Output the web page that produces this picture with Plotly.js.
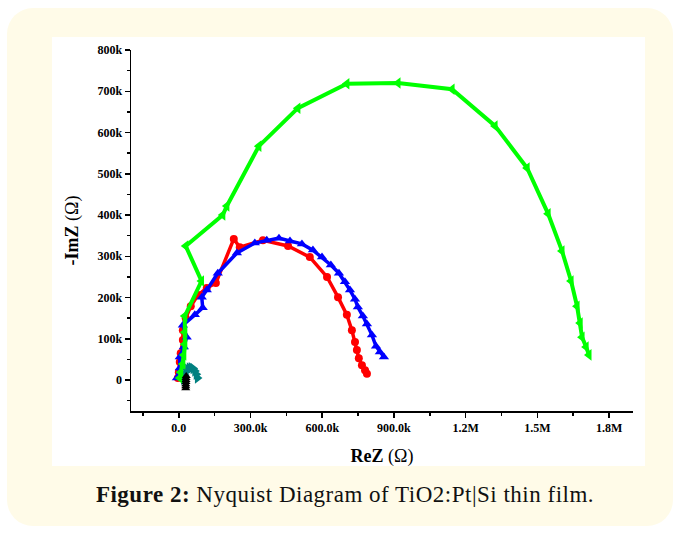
<!DOCTYPE html>
<html>
<head>
<meta charset="utf-8">
<script src="https://cdn.plot.ly/plotly-3.0.1.min.js"></script>
<style>
  html, body { margin: 0; padding: 0; background: #ffffff; width: 680px; height: 533px; overflow: hidden; }
  #card { position: absolute; left: 7px; top: 8px; width: 666px; height: 518px; background: #fffbe8; border-radius: 26px; }
  #frame { position: absolute; left: 52px; top: 37px; width: 593px; height: 429px; background: #ffffff; overflow: hidden; }
  #plot { position: absolute; left: 0; top: 0; width: 593px; height: 449px; }
  #caption { position: absolute; left: 0; top: 482px; width: 690px; text-align: center; font-family: 'Liberation Serif', serif; font-size: 23px; letter-spacing: 0.5px; color: #111; }
</style>
</head>
<body>
<div id="card"></div>
<div id="frame"><div id="plot"></div></div>
<div id="caption"><b>Figure 2:</b> Nyquist Diagram of TiO2:Pt|Si thin film.</div>
<script>
// Values in kΩ (converted to Ω below)
const redX   = [-4, 0, 4, 8, 17, 17, 29, 50, 80, 117, 155, 230, 255, 352, 457, 548, 620, 666, 703, 724, 737, 745, 753, 766, 779, 787];
const redY   = [5, 19, 44, 65, 97, 121, 150, 179, 206, 223, 235, 342, 322, 339, 325, 298, 250, 201, 158, 121, 92, 73, 53, 36, 24, 15];

const blueX  = [-8, 4, 4, 21, 33, 17, 67, 100, 96, 117, 163, 243, 318, 368, 419, 465, 515, 561, 599, 636, 670, 695, 716, 737, 749, 770, 787, 808, 825, 841, 858];
const blueY  = [5, 29, 56, 80, 104, 133, 158, 175, 201, 218, 259, 308, 332, 339, 344, 337, 330, 315, 298, 279, 259, 238, 218, 196, 177, 155, 136, 109, 82, 68, 56];

const greenX = [4, 8, 17, 21, 25, 25, 25, 95, 29, 184, 201, 335, 498, 703, 917, 1143, 1323, 1457, 1545, 1603, 1641, 1666, 1679, 1687, 1704, 1716];
const greenY = [5, 19, 39, 61, 87, 116, 155, 240, 325, 400, 422, 567, 659, 718, 720, 705, 616, 514, 403, 313, 240, 179, 138, 104, 80, 61];

const tealX  = [20, 24, 30, 37, 44, 52, 60, 67, 73, 78];
const tealY  = [2, 12, 20, 26, 29, 30, 28, 22, 14, 5];

const blackX = [29, 29, 29, 30, 30, 30, 31];
const blackY = [-20, -15, -10, -5, 0, 5, 10];

const xTickVals = [0, 300000, 600000, 900000, 1200000, 1500000, 1800000];
const xTickText = ['0.0', '300.0k', '600.0k', '900.0k', '1.2M', '1.5M', '1.8M'];
const yTickVals = [0, 100000, 200000, 300000, 400000, 500000, 600000, 700000, 800000];
const yTickText = ['0', '100k', '200k', '300k', '400k', '500k', '600k', '700k', '800k'];

const k = v => v.map(a => a * 1000);

const traces = [
  { x: k(redX), y: k(redY), mode: 'lines+markers', line: {color: '#ff0000', width: 3.5},
    marker: {symbol: 'circle', size: 8, color: '#ff0000'} },
  { x: k(blueX), y: k(blueY), mode: 'lines+markers', line: {color: '#0000ff', width: 3.5},
    marker: {symbol: 'triangle-up', size: 9, color: '#0000ff'} },
  { x: k(tealX), y: k(tealY), mode: 'lines+markers', line: {color: '#008080', width: 3},
    marker: {symbol: 'triangle-right', size: 10, color: '#008080'} },
  { x: k(greenX), y: k(greenY), mode: 'lines+markers', line: {color: '#00ff00', width: 4},
    marker: {symbol: 'triangle-left', size: 10, color: '#00ff00'} },
  { x: k(blackX), y: k(blackY), mode: 'lines+markers', line: {color: '#000000', width: 5},
    marker: {symbol: 'triangle-up', size: 8, color: '#000000'} }
];

const tickFont = {family: 'Liberation Serif', size: 12, color: '#000', weight: 'bold'};

const layout = {
  width: 593, height: 449,
  margin: {l: 79, r: 12, t: 13, b: 75},
  paper_bgcolor: '#ffffff', plot_bgcolor: '#ffffff',
  showlegend: false,
  xaxis: {
    range: [-200000, 1900000], autorange: false,
    showgrid: false, zeroline: false, showline: true, linecolor: '#000', linewidth: 1.5,
    ticks: 'outside', ticklen: 5, tickwidth: 1.5, tickcolor: '#000',
    tickvals: xTickVals, ticktext: xTickText, tickfont: tickFont,
    minor: {ticks: 'outside', ticklen: 3, tickwidth: 1.5, tickcolor: '#000', dtick: 150000, tick0: 0, showgrid: false},
    title: {text: '<b>ReZ</b> (Ω)', font: {family: 'Liberation Serif', size: 18, color: '#000'}, standoff: 15}
  },
  yaxis: {
    range: [-75000, 800000], autorange: false,
    showgrid: false, zeroline: false, showline: true, linecolor: '#000', linewidth: 1.5,
    ticks: 'outside', ticklen: 5, tickwidth: 1.5, tickcolor: '#000',
    tickvals: yTickVals, ticktext: yTickText, tickfont: tickFont,
    minor: {ticks: 'outside', ticklen: 3, tickwidth: 1.5, tickcolor: '#000', dtick: 50000, tick0: 0, showgrid: false},
    title: {text: '<b>-ImZ</b> (Ω)', font: {family: 'Liberation Serif', size: 18, color: '#000'}, standoff: 14}
  }
};

Plotly.newPlot('plot', traces, layout, {staticPlot: true, displayModeBar: false});
</script>
</body>
</html>
